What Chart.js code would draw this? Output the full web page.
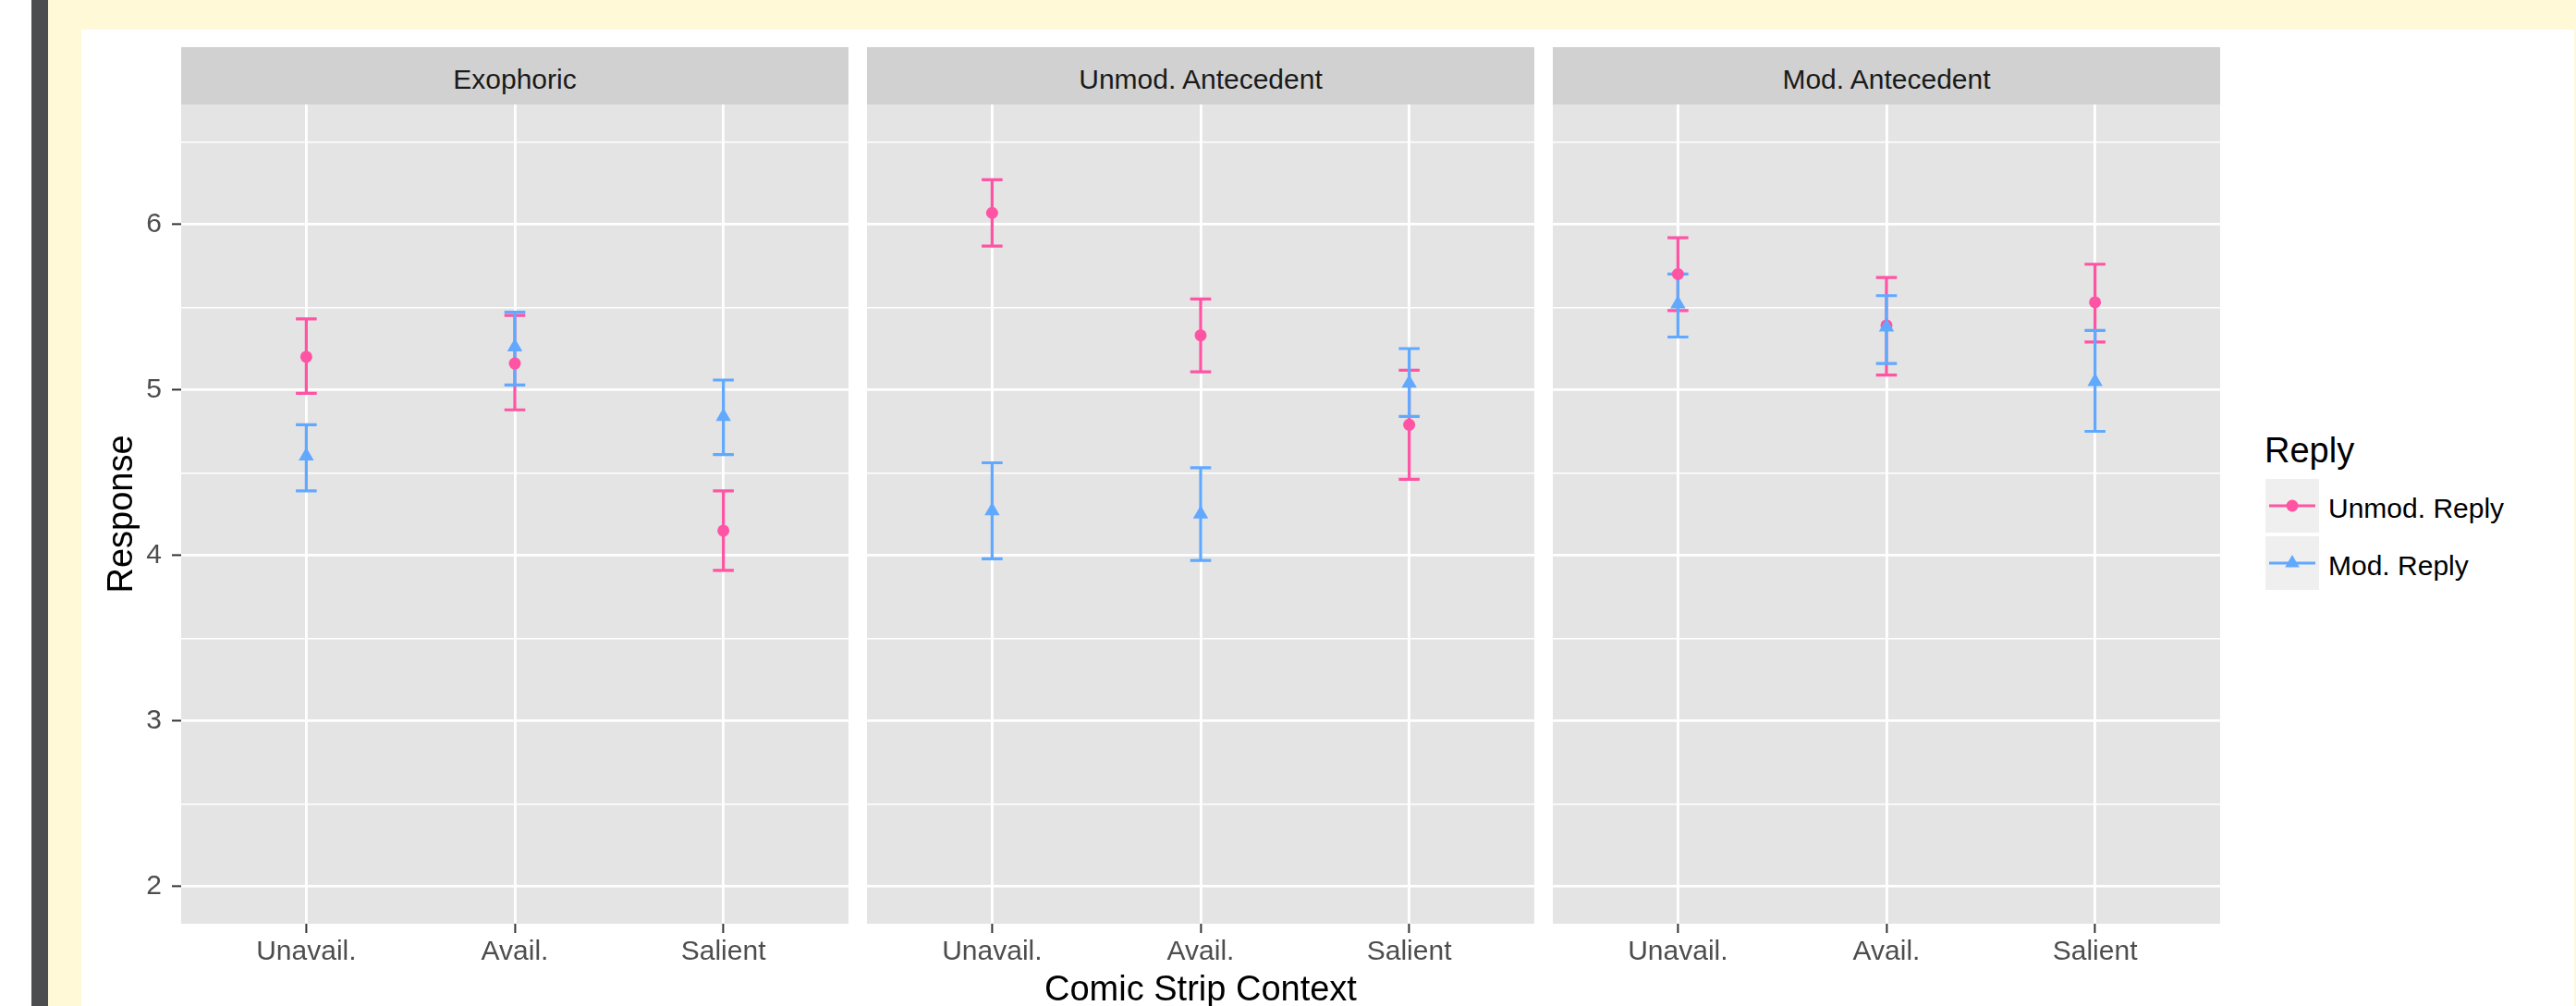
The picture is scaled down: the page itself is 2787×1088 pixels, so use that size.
<!DOCTYPE html>
<html><head><meta charset="utf-8">
<script src="https://cdn.jsdelivr.net/npm/chart.js@4/dist/chart.umd.min.js"></script>
<style>
html,body{margin:0;padding:0;background:#fff;width:2787px;height:1088px;overflow:hidden;font-family:"Liberation Sans",Arial,Helvetica,sans-serif;}
.abs{position:absolute;}
.strip{position:absolute;top:51px;height:62px;background:#d1d1d1;color:#1a1a1a;font-size:30px;line-height:30px;text-align:center;}
.strip span{position:absolute;left:0;right:0;top:20px;}
.lt{position:absolute;font-size:30px;line-height:30px;color:#000;white-space:nowrap;}
</style></head><body>
<div class="abs" style="left:34px;top:0;width:18px;height:1088px;background:#4b4d4f"></div>
<div class="abs" style="left:52px;top:0;width:2735px;height:32px;background:#fff9d8"></div>
<div class="abs" style="left:52px;top:32px;width:36px;height:1056px;background:#fff9d8"></div>
<div class="abs" style="left:2785px;top:32px;width:2px;height:1056px;background:#fff9d8"></div>

<div id="wrap"></div>

<div class="abs" style="left:130px;top:556px;width:0;height:0;">
  <div style="position:absolute;left:-100px;top:-19px;width:200px;height:38px;font-size:38px;line-height:38px;text-align:center;transform:rotate(-90deg);color:#000;">Response</div>
</div>
<div class="abs" style="left:999px;top:1050px;width:600px;font-size:38px;line-height:38px;text-align:center;color:#000;">Comic Strip Context</div>

<div class="abs" style="left:2450px;top:468px;font-size:38px;line-height:38px;color:#000;">Reply</div>
<svg class="abs" style="left:2451px;top:518px" width="58" height="58"><rect width="58" height="58" fill="#efefef"/><line x1="4" y1="29" x2="54" y2="29" stroke="#ff53a4" stroke-width="3.2"/><circle cx="29" cy="29" r="6.5" fill="#ff53a4"/></svg>
<svg class="abs" style="left:2451px;top:580px" width="58" height="58"><rect width="58" height="58" fill="#efefef"/><line x1="4" y1="29" x2="54" y2="29" stroke="#60a9ff" stroke-width="3.2"/><polygon points="29,20 21.2,33.5 36.8,33.5" fill="#60a9ff"/></svg>
<div class="lt" style="left:2519px;top:535px;">Unmod. Reply</div>
<div class="lt" style="left:2519px;top:597px;">Mod. Reply</div>

<script>
// ---- data ----
const panels = ['Exophoric', 'Unmod. Antecedent', 'Mod. Antecedent'];
const categories = ['Unavail.', 'Avail.', 'Salient'];
const seriesNames = ['Unmod. Reply', 'Mod. Reply'];
const yMajorTicks = [2, 3, 4, 5, 6];
const yMinorTicks = [2.5, 3.5, 4.5, 5.5, 6.5];

// per panel, per category
const unmodMean = [[5.20, 5.16, 4.15], [6.07, 5.33, 4.79], [5.70, 5.39, 5.53]];
const unmodLow  = [[4.98, 4.88, 3.91], [5.87, 5.11, 4.46], [5.48, 5.09, 5.29]];
const unmodHigh = [[5.43, 5.45, 4.39], [6.27, 5.55, 5.12], [5.92, 5.68, 5.76]];
const modMean   = [[4.60, 5.26, 4.84], [4.27, 4.25, 5.04], [5.52, 5.38, 5.05]];
const modLow    = [[4.39, 5.03, 4.61], [3.98, 3.97, 4.84], [5.32, 5.16, 4.75]];
const modHigh   = [[4.79, 5.47, 5.06], [4.56, 4.53, 5.25], [5.70, 5.57, 5.36]];

// ---- style ----
const PINK = '#ff53a4', BLUE = '#60a9ff';
const CAP = 0.05;
const Y_MIN = 1.775, Y_MAX = 6.725, X_MIN = 0.4, X_MAX = 3.6;
const layoutPanels = [
  {left: 100, width: 818, axisW: 96},
  {left: 938, width: 722, axisW: 0},
  {left: 1680, width: 722, axisW: 0}
];
const TOP = 113, AREA_H = 886, XAXIS_H = 60;

function errData(lo, hi) {
  const d = [];
  for (let i = 0; i < lo.length; i++) {
    const x = i + 1;
    d.push({x: x, y: lo[i]}, {x: x, y: hi[i]}, {x: x, y: null});
    d.push({x: x - CAP, y: hi[i]}, {x: x + CAP, y: hi[i]}, {x: x, y: null});
    d.push({x: x - CAP, y: lo[i]}, {x: x + CAP, y: lo[i]}, {x: x, y: null});
  }
  return d;
}
function ptData(m) { return m.map((v, i) => ({x: i + 1, y: v})); }

const bgPlugin = {
  id: 'panelBg',
  beforeDraw(chart) {
    const a = chart.chartArea, c = chart.ctx;
    c.save(); c.fillStyle = '#e4e4e4';
    c.fillRect(a.left, a.top, a.right - a.left, a.bottom - a.top);
    c.restore();
  }
};

const wrap = document.getElementById('wrap');
panels.forEach((name, p) => {
  const L = layoutPanels[p];
  const plotLeft = L.left + L.axisW;
  const strip = document.createElement('div');
  strip.className = 'strip';
  strip.style.left = plotLeft + 'px';
  strip.style.width = (L.width - L.axisW) + 'px';
  strip.innerHTML = '<span>' + name + '</span>';
  document.body.appendChild(strip);

  const box = document.createElement('div');
  box.className = 'abs';
  box.style.left = L.left + 'px';
  box.style.top = TOP + 'px';
  const cv = document.createElement('canvas');
  cv.width = L.width; cv.height = AREA_H + XAXIS_H;
  cv.style.width = L.width + 'px'; cv.style.height = (AREA_H + XAXIS_H) + 'px';
  box.appendChild(cv);
  wrap.appendChild(box);

  const showY = L.axisW > 0;
  new Chart(cv, {
    type: 'scatter',
    data: {
      datasets: [
        {label: seriesNames[0] + ' err', data: errData(unmodLow[p], unmodHigh[p]), showLine: true, spanGaps: false,
         borderColor: PINK, borderWidth: 3.2, borderCapStyle: 'butt', pointRadius: 0, order: 4},
        {label: seriesNames[1] + ' err', data: errData(modLow[p], modHigh[p]), showLine: true, spanGaps: false,
         borderColor: BLUE, borderWidth: 3.2, borderCapStyle: 'butt', pointRadius: 0, order: 3},
        {label: seriesNames[0], data: ptData(unmodMean[p]), showLine: false, pointStyle: 'circle',
         pointRadius: 6.5, backgroundColor: PINK, borderColor: PINK, borderWidth: 0, order: 2},
        {label: seriesNames[1], data: ptData(modMean[p]), showLine: false, pointStyle: 'triangle',
         pointRadius: 9.5, backgroundColor: BLUE, borderColor: BLUE, borderWidth: 0, order: 1}
      ]
    },
    options: {
      responsive: false, animation: false, devicePixelRatio: 1,
      layout: {padding: 0, autoPadding: false},
      plugins: {legend: {display: false}, tooltip: {enabled: false}, title: {display: false}},
      scales: {
        x: {
          type: 'linear', min: X_MIN, max: X_MAX, position: 'bottom',
          afterBuildTicks: s => { s.ticks = categories.map((c, i) => ({value: i + 1})); },
          afterFit: s => { s.height = XAXIS_H; s.paddingLeft = 0; s.paddingRight = 0; s.paddingTop = 0; s.paddingBottom = 0; },
          ticks: {callback: v => categories[Math.round(v) - 1], color: '#4d4d4d', padding: 3,
                  font: {family: '"Liberation Sans", Arial, sans-serif', size: 30}, maxRotation: 0, autoSkip: false},
          grid: {color: '#ffffff', lineWidth: 2.8, drawTicks: true, tickLength: 10, tickColor: '#333333', tickWidth: 2},
          border: {display: false}
        },
        y: {
          type: 'linear', min: Y_MIN, max: Y_MAX, position: 'left',
          afterBuildTicks: s => { s.ticks = yMajorTicks.concat(yMinorTicks).sort((a, b) => a - b).map(v => ({value: v})); },
          afterFit: s => { s.width = L.axisW; s.paddingTop = 0; s.paddingBottom = 0; s.paddingLeft = 0; s.paddingRight = 0; },
          ticks: {display: showY, color: '#4d4d4d', padding: 11,
                  font: {family: '"Liberation Sans", Arial, sans-serif', size: 30},
                  callback: v => yMajorTicks.includes(v) ? String(v) : ''},
          grid: {color: '#ffffff',
                 lineWidth: c => (c.tick && yMajorTicks.includes(c.tick.value)) ? 2.8 : 1.4,
                 drawTicks: showY, tickLength: 10, tickWidth: 2,
                 tickColor: c => (c.tick && yMajorTicks.includes(c.tick.value)) ? '#333333' : 'rgba(0,0,0,0)'},
          border: {display: false}
        }
      }
    },
    plugins: [bgPlugin]
  });
});
</script>
</body></html>
